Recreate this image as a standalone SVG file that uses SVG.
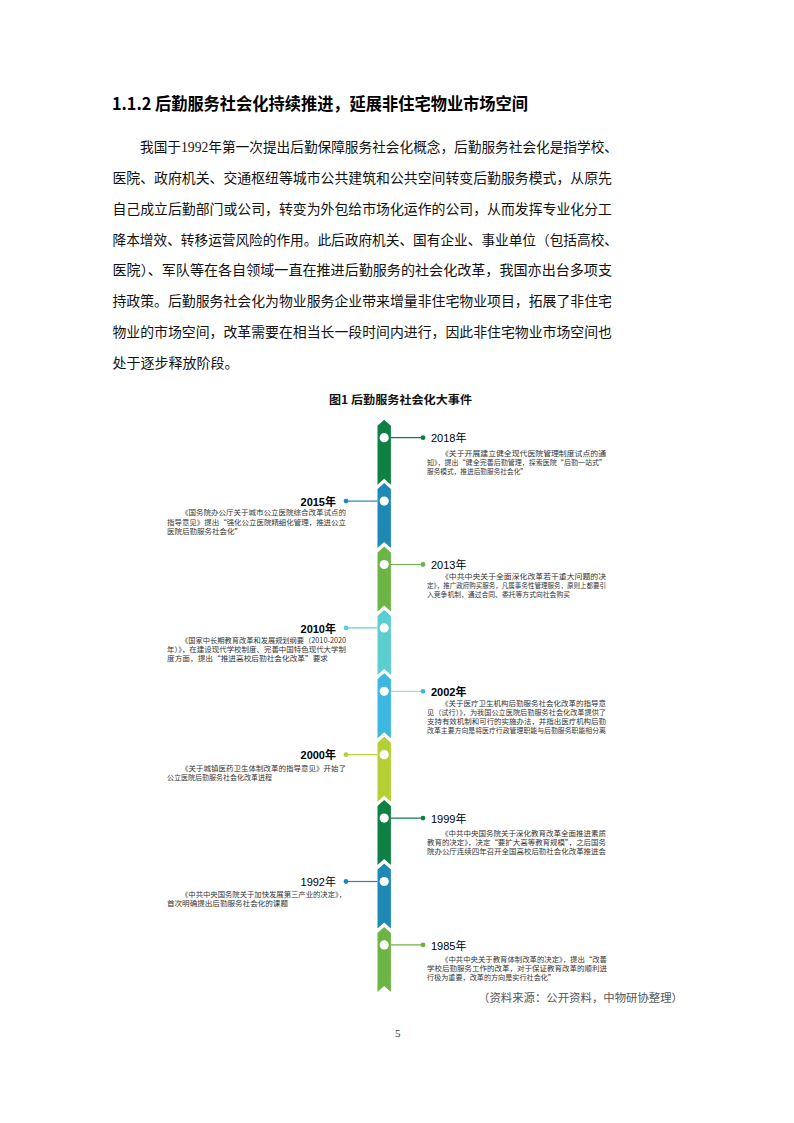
<svg xmlns="http://www.w3.org/2000/svg" width="794" height="1123" viewBox="0 0 794 1123">
<style>
.h{font-family:"Noto Sans CJK SC","Liberation Sans",sans-serif;font-weight:bold;font-size:17px;fill:#000}
.b{font-family:"Liberation Serif","Noto Sans CJK SC",serif;font-size:14px;fill:#111}
.t{font-family:"Noto Sans CJK SC","Liberation Sans",sans-serif;font-weight:bold;font-size:11px;fill:#111}
.y{font-family:"Liberation Sans","Noto Sans CJK SC",sans-serif;font-size:11px;fill:#000}
.yb{font-family:"Liberation Sans","Noto Sans CJK SC",sans-serif;font-size:11px;font-weight:bold;fill:#000}
.d{font-family:"Noto Sans CJK SC","Liberation Sans",sans-serif;font-size:7px;fill:#333}
.src{font-family:"Noto Sans CJK SC","Liberation Serif",serif;font-size:11px;fill:#555}
.pg{font-family:"Liberation Serif",serif;font-size:11px;fill:#333}
.dot{fill:#fff}
</style>
<defs>
<path id="seg" d="M-6.7,-12 L0,-18 L6.7,-12 L6.7,47 L0,41 L-6.7,47 Z"/>
</defs>
<rect width="794" height="1123" fill="#fff"/>

<g id="heading">
<text class="h" x="112" y="110" textLength="416" lengthAdjust="spacingAndGlyphs">1.1.2 后勤服务社会化持续推进，延展非住宅物业市场空间</text>
</g>

<g id="paragraph">
<text class="b" x="140" y="152" textLength="478" lengthAdjust="spacingAndGlyphs">我国于1992年第一次提出后勤保障服务社会化概念，后勤服务社会化是指学校、</text>
<text class="b" x="112.5" y="183" textLength="499.5" lengthAdjust="spacingAndGlyphs">医院、政府机关、交通枢纽等城市公共建筑和公共空间转变后勤服务模式，从原先</text>
<text class="b" x="112.5" y="213.5" textLength="499.5" lengthAdjust="spacingAndGlyphs">自己成立后勤部门或公司，转变为外包给市场化运作的公司，从而发挥专业化分工</text>
<text class="b" x="112.5" y="244.5" textLength="505.5" lengthAdjust="spacingAndGlyphs">降本增效、转移运营风险的作用。此后政府机关、国有企业、事业单位（包括高校、</text>
<text class="b" x="112.5" y="275" textLength="499.5" lengthAdjust="spacingAndGlyphs">医院）、军队等在各自领域一直在推进后勤服务的社会化改革，我国亦出台多项支</text>
<text class="b" x="112.5" y="306" textLength="499.5" lengthAdjust="spacingAndGlyphs">持政策。后勤服务社会化为物业服务企业带来增量非住宅物业项目，拓展了非住宅</text>
<text class="b" x="112.5" y="337" textLength="499.5" lengthAdjust="spacingAndGlyphs">物业的市场空间，改革需要在相当长一段时间内进行，因此非住宅物业市场空间也</text>
<text class="b" x="112.5" y="367.5">处于逐步释放阶段。</text>
</g>

<g id="figure-title">
<text class="t" x="329" y="404" textLength="143" lengthAdjust="spacingAndGlyphs">图1 后勤服务社会化大事件</text>
</g>

<g id="connectors" stroke-width="1.2">
<line x1="390.5" y1="437.7" x2="423" y2="437.7" stroke="#0e8043"/><circle cx="423" cy="437.7" r="2.4" fill="#0e8043"/>
<line x1="377.5" y1="501.1" x2="346" y2="501.1" stroke="#1f89b5"/><circle cx="346" cy="501.1" r="2.4" fill="#1f89b5"/>
<line x1="390.5" y1="564.5" x2="423" y2="564.5" stroke="#6cb544"/><circle cx="423" cy="564.5" r="2.4" fill="#6cb544"/>
<line x1="377.5" y1="627.9" x2="346" y2="627.9" stroke="#5bcfcf"/><circle cx="346" cy="627.9" r="2.4" fill="#5bcfcf"/>
<line x1="390.5" y1="691.3" x2="423" y2="691.3" stroke="#a9d6ec"/><circle cx="423" cy="691.3" r="2.4" fill="#3bb7e2"/>
<line x1="377.5" y1="754.7" x2="346" y2="754.7" stroke="#b4d034"/><circle cx="346" cy="754.7" r="2.4" fill="#b4d034"/>
<line x1="390.5" y1="818.1" x2="423" y2="818.1" stroke="#0e8043"/><circle cx="423" cy="818.1" r="2.4" fill="#0e8043"/>
<line x1="377.5" y1="881.5" x2="346" y2="881.5" stroke="#1f89b5"/><circle cx="346" cy="881.5" r="2.4" fill="#1f89b5"/>
<line x1="390.5" y1="944.9" x2="423" y2="944.9" stroke="#6cb544"/><circle cx="423" cy="944.9" r="2.4" fill="#6cb544"/>
</g>

<g id="event-2018">
<use href="#seg" transform="translate(384.2,437.7)" fill="#0e8043"/>
<circle class="dot" cx="384.2" cy="437.7" r="4.6"/>
<text class="y" x="431" y="442">2018年</text>
<text class="d" x="441" y="455.5" textLength="165" lengthAdjust="spacingAndGlyphs">《关于开展建立健全现代医院管理制度试点的通</text>
<text class="d" x="427" y="464.5" textLength="179" lengthAdjust="spacingAndGlyphs">知》，提出“健全完善后勤管理，探索医院“后勤一站式”</text>
<text class="d" x="427" y="473.5" textLength="100" lengthAdjust="spacingAndGlyphs">服务模式，推进后勤服务社会化”</text>
</g>

<g id="event-2015">
<use href="#seg" transform="translate(384.2,501.1)" fill="#1f89b5"/>
<circle class="dot" cx="384.2" cy="501.1" r="4.6"/>
<text class="yb" x="336" y="505.5" text-anchor="end">2015年</text>
<text class="d" x="181" y="515" textLength="165" lengthAdjust="spacingAndGlyphs">《国务院办公厅关于城市公立医院综合改革试点的</text>
<text class="d" x="167" y="524.5" textLength="179" lengthAdjust="spacingAndGlyphs">指导意见》提出“强化公立医院精细化管理，推进公立</text>
<text class="d" x="167" y="534" textLength="75" lengthAdjust="spacingAndGlyphs">医院后勤服务社会化”</text>
</g>

<g id="event-2013">
<use href="#seg" transform="translate(384.2,564.5)" fill="#6cb544"/>
<circle class="dot" cx="384.2" cy="564.5" r="4.6"/>
<text class="y" x="431" y="569">2013年</text>
<text class="d" x="441" y="578.5" textLength="165" lengthAdjust="spacingAndGlyphs">《中共中央关于全面深化改革若干重大问题的决</text>
<text class="d" x="427" y="587.5" textLength="179" lengthAdjust="spacingAndGlyphs">定》，推广政府购买服务，凡属事务性管理服务，原则上都要引</text>
<text class="d" x="427" y="596.5" textLength="143" lengthAdjust="spacingAndGlyphs">入竞争机制，通过合同、委托等方式向社会购买</text>
</g>

<g id="event-2010">
<use href="#seg" transform="translate(384.2,627.9)" fill="#5bcfcf"/>
<circle class="dot" cx="384.2" cy="627.9" r="4.6"/>
<text class="yb" x="336" y="632.5" text-anchor="end">2010年</text>
<text class="d" x="181" y="642.5" textLength="165" lengthAdjust="spacingAndGlyphs">《国家中长期教育改革和发展规划纲要（2010-2020</text>
<text class="d" x="167" y="651.5" textLength="179" lengthAdjust="spacingAndGlyphs">年）》，在建设现代学校制度、完善中国特色现代大学制</text>
<text class="d" x="167" y="660.5" textLength="161" lengthAdjust="spacingAndGlyphs">度方面，提出“推进高校后勤社会化改革”要求</text>
</g>

<g id="event-2002">
<use href="#seg" transform="translate(384.2,691.3)" fill="#3bb7e2"/>
<circle class="dot" cx="384.2" cy="691.3" r="4.6"/>
<text class="yb" x="431" y="696">2002年</text>
<text class="d" x="441" y="706" textLength="165" lengthAdjust="spacingAndGlyphs">《关于医疗卫生机构后勤服务社会化改革的指导意</text>
<text class="d" x="427" y="715" textLength="179" lengthAdjust="spacingAndGlyphs">见（试行）》，为我国公立医院后勤服务社会化改革提供了</text>
<text class="d" x="427" y="724" textLength="179" lengthAdjust="spacingAndGlyphs">支持有效机制和可行的实施办法，并指出医疗机构后勤</text>
<text class="d" x="427" y="733" textLength="179" lengthAdjust="spacingAndGlyphs">改革主要方向是将医疗行政管理职能与后勤服务职能相分离</text>
</g>

<g id="event-2000">
<use href="#seg" transform="translate(384.2,754.7)" fill="#b4d034"/>
<circle class="dot" cx="384.2" cy="754.7" r="4.6"/>
<text class="yb" x="336" y="759" text-anchor="end">2000年</text>
<text class="d" x="181" y="770.5" textLength="165" lengthAdjust="spacingAndGlyphs">《关于城镇医药卫生体制改革的指导意见》开始了</text>
<text class="d" x="167" y="779.5" textLength="105" lengthAdjust="spacingAndGlyphs">公立医院后勤服务社会化改革进程</text>
</g>

<g id="event-1999">
<use href="#seg" transform="translate(384.2,818.1)" fill="#0e8043"/>
<circle class="dot" cx="384.2" cy="818.1" r="4.6"/>
<text class="y" x="431" y="823">1999年</text>
<text class="d" x="441" y="835.5" textLength="165" lengthAdjust="spacingAndGlyphs">《中共中央国务院关于深化教育改革全面推进素质</text>
<text class="d" x="427" y="844.5" textLength="179" lengthAdjust="spacingAndGlyphs">教育的决定》，决定“要扩大高等教育规模”，之后国务</text>
<text class="d" x="427" y="853.5" textLength="179" lengthAdjust="spacingAndGlyphs">院办公厅连续四年召开全国高校后勤社会化改革推进会</text>
</g>

<g id="event-1992">
<use href="#seg" transform="translate(384.2,881.5)" fill="#1f89b5"/>
<circle class="dot" cx="384.2" cy="881.5" r="4.6"/>
<text class="y" x="336" y="886" text-anchor="end">1992年</text>
<text class="d" x="181" y="896.5" textLength="165" lengthAdjust="spacingAndGlyphs">《中共中央国务院关于加快发展第三产业的决定》，</text>
<text class="d" x="167" y="905.5" textLength="121" lengthAdjust="spacingAndGlyphs">首次明确提出后勤服务社会化的课题</text>
</g>

<g id="event-1985">
<use href="#seg" transform="translate(384.2,944.9)" fill="#6cb544"/>
<circle class="dot" cx="384.2" cy="944.9" r="4.6"/>
<text class="y" x="431" y="949.5">1985年</text>
<text class="d" x="441" y="961.5" textLength="166" lengthAdjust="spacingAndGlyphs">《中共中央关于教育体制改革的决定》，提出“改善</text>
<text class="d" x="427" y="970.5" textLength="180" lengthAdjust="spacingAndGlyphs">学校后勤服务工作的改革，对于保证教育改革的顺利进</text>
<text class="d" x="427" y="979.5" textLength="128" lengthAdjust="spacingAndGlyphs">行极为重要，改革的方向是实行社会化”</text>
</g>

<g id="source">
<text class="src" x="478" y="1002" textLength="205" lengthAdjust="spacingAndGlyphs">（资料来源：公开资料，中物研协整理）</text>
</g>

<g id="page-number">
<text class="pg" x="395" y="1037">5</text>
</g>
</svg>
